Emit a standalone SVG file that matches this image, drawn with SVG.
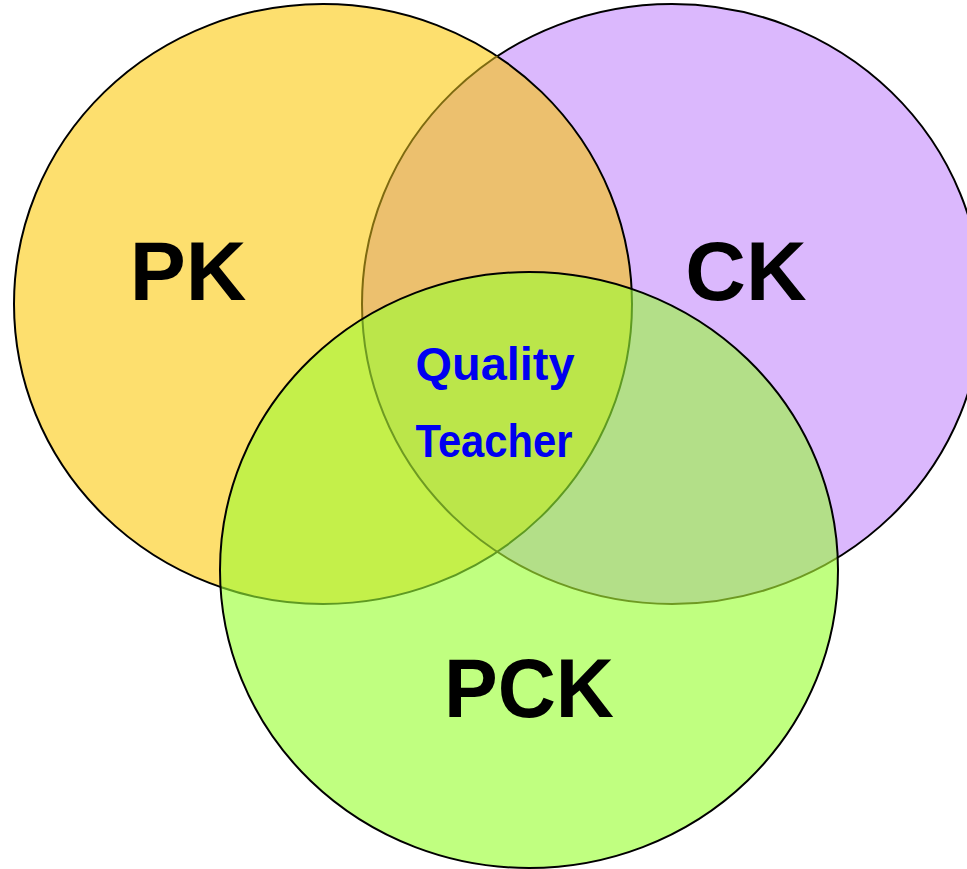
<svg xmlns="http://www.w3.org/2000/svg" width="967" height="869" viewBox="0 0 967 869">
<style>
.lbl{font-family:"Liberation Sans",Arial,sans-serif;font-weight:bold;fill:#000;text-anchor:middle}
.mid{font-family:"Liberation Sans",Arial,sans-serif;font-weight:bold;fill:#0000F0;text-anchor:middle}
.edge{fill:none;stroke-width:2}
</style>
<defs>
<clipPath id="cY"><ellipse cx="323" cy="304" rx="309" ry="300"/></clipPath>
<clipPath id="cP"><ellipse cx="672" cy="304" rx="310" ry="300"/></clipPath>
<clipPath id="cG"><ellipse cx="529" cy="570" rx="309" ry="298"/></clipPath>
<mask id="notG"><rect width="967" height="869" fill="#fff"/><ellipse cx="529" cy="570" rx="309" ry="298" fill="#000"/></mask>
<mask id="notGY"><rect width="967" height="869" fill="#fff"/><ellipse cx="529" cy="570" rx="309" ry="298" fill="#000"/><ellipse cx="323" cy="304" rx="309" ry="300" fill="#000"/></mask>
</defs>
<rect width="967" height="869" fill="#fff"/>
<g id="PK-circle">
<ellipse cx="323" cy="304" rx="309" ry="300" fill="#FDDF6E"/>
</g>
<g id="CK-circle">
<ellipse cx="672" cy="304" rx="310" ry="300" fill="#DBB8FD"/>
<g clip-path="url(#cY)"><ellipse cx="672" cy="304" rx="310" ry="300" fill="#ECC06E"/></g>
</g>
<g id="PCK-circle">
<ellipse cx="529" cy="570" rx="309" ry="298" fill="#C0FF80"/>
<g clip-path="url(#cY)"><ellipse cx="529" cy="570" rx="309" ry="298" fill="#C4F04A"/></g>
<g clip-path="url(#cP)"><ellipse cx="529" cy="570" rx="309" ry="298" fill="#B3DF88"/></g>
<g clip-path="url(#cY)"><g clip-path="url(#cP)"><ellipse cx="529" cy="570" rx="309" ry="298" fill="#BBE64A"/></g></g>
</g>
<g id="outlines">
<g mask="url(#notG)">
<ellipse class="edge" cx="323" cy="304" rx="309" ry="300" stroke="#000"/>
</g>
<g mask="url(#notGY)">
<ellipse class="edge" cx="672" cy="304" rx="310" ry="300" stroke="#000"/>
</g>
<g clip-path="url(#cY)"><g mask="url(#notG)"><ellipse class="edge" cx="672" cy="304" rx="310" ry="300" stroke="#7E6A10"/></g></g>
<g clip-path="url(#cG)">
<ellipse class="edge" cx="323" cy="304" rx="309" ry="300" stroke="#5E9A22"/>
<ellipse class="edge" cx="672" cy="304" rx="310" ry="300" stroke="#6E9A22"/>
</g>
<ellipse class="edge" cx="529" cy="570" rx="309" ry="298" stroke="#000"/>
</g>
<g id="labels">
<text class="lbl" x="188" y="300" font-size="84">PK</text>
<text class="lbl" x="746" y="300" font-size="84">CK</text>
<text class="lbl" x="529" y="717" font-size="84" textLength="170" lengthAdjust="spacingAndGlyphs">PCK</text>
<text class="mid" x="495" y="380" font-size="47" textLength="159" lengthAdjust="spacingAndGlyphs">Quality</text>
<text class="mid" x="494" y="457" font-size="46" textLength="157" lengthAdjust="spacingAndGlyphs">Teacher</text>
</g>
</svg>
